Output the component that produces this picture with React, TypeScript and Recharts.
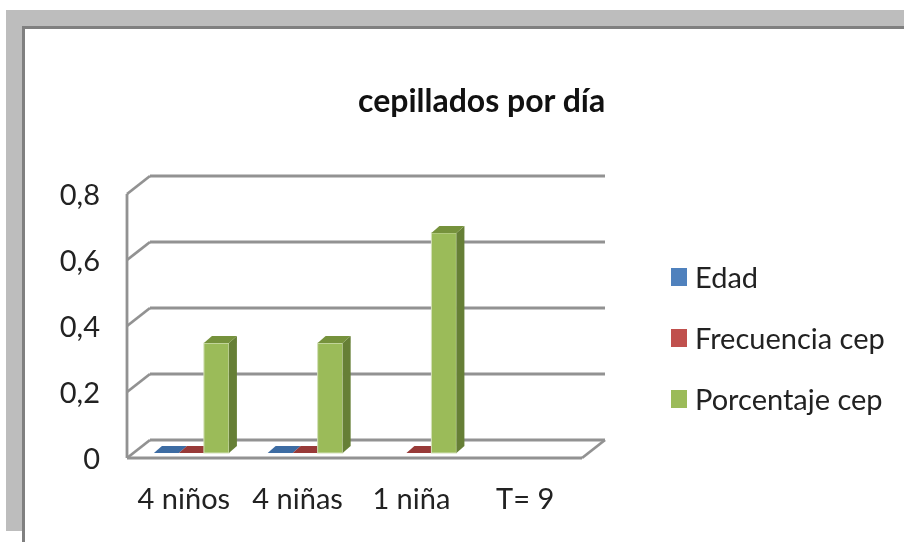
import { BarChart, Bar, XAxis, YAxis, CartesianGrid, Legend, ReferenceLine } from "recharts";

const categories = ["4 niños", "4 niñas", "1 niña", "T= 9"];
const edad = [0, 0, null, null];
const frecuencia = [0, 0, 0, null];
const porcentaje = [0.333, 0.333, 0.667, null];
const yTicks = [0, 0.2, 0.4, 0.6, 0.8];

const data = categories.map((name, i) => ({
  name,
  edad: edad[i],
  frecuencia: frecuencia[i],
  porcentaje: porcentaje[i],
}));

const FONT = "Lato, sans-serif";
const GRID = "#929292";
const GRID_W = 2.8;
// fake 3d: the bars sit mid-way between the front edge and the back wall
const BACK = { x: 16, y: -13 };
const FRONT = { x: -7, y: 5 };
const BAR_DEPTH = { x: 8, y: -7 };

function wallLine(p: any) {
  return (
    <g key={p.key ?? p.y1}>
      <line x1={p.x1 + BACK.x} y1={p.y1 + BACK.y} x2={p.x2 + BACK.x} y2={p.y1 + BACK.y} stroke={GRID} strokeWidth={GRID_W} />
      <line x1={p.x1 + FRONT.x} y1={p.y1 + FRONT.y} x2={p.x1 + BACK.x} y2={p.y1 + BACK.y} stroke={GRID} strokeWidth={GRID_W} />
    </g>
  );
}

function floorEdge(p: any) {
  const { x2, y2 } = p;
  return <line x1={x2 + FRONT.x} y1={y2 + FRONT.y} x2={x2 + BACK.x} y2={y2 + BACK.y} stroke={GRID} strokeWidth={GRID_W} />;
}

const box3d = (front: string, side: string, top: string) => (p: any) => {
  const { x, y, width: w, height: h, value } = p;
  const v = Array.isArray(value) ? value[1] : value;
  if (v == null) return null;
  const dx = BAR_DEPTH.x;
  const dy = BAR_DEPTH.y;
  return (
    <g>
      {h > 0 && <rect x={x} y={y} width={w} height={h} fill={front} stroke="#d3e0b8" strokeWidth={1} />}
      {h > 0 && (
        <polygon points={`${x + w},${y} ${x + w + dx},${y + dy} ${x + w + dx},${y + h + dy} ${x + w},${y + h}`} fill={side} />
      )}
      <polygon points={`${x},${y} ${x + dx},${y + dy} ${x + w + dx},${y + dy} ${x + w},${y}`} fill={top} />
    </g>
  );
};

function CategoryTick({ x, y, payload }: any) {
  return (
    <text x={x + FRONT.x} y={y + 48} textAnchor="middle" fontFamily={FONT} fontSize={29} fill="#222">
      {payload.value}
    </text>
  );
}

function ValueTick({ x, y, payload }: any) {
  return (
    <text x={x - 26} y={y + 16} textAnchor="end" fontFamily={FONT} fontSize={29} fill="#222">
      {String(payload.value).replace(".", ",")}
    </text>
  );
}

function LegendList({ payload }: any) {
  return (
    <div>
      {(payload ?? []).map((item: any) => (
        <div key={item.value} style={{ display: "flex", alignItems: "center", height: 61, color: "#222", fontFamily: FONT, fontSize: 29 }}>
          <span style={{ width: 16, height: 18, background: item.color, marginRight: 8 }} />
          {item.value}
        </div>
      ))}
    </div>
  );
}

export default function App() {
  return (
    <div style={{ position: "fixed", left: 0, top: 0, width: 904, height: 542, background: "#fff", overflow: "hidden", filter: "blur(0.4px)" }}>
      <div style={{ position: "absolute", left: 6, top: 10, width: 898, height: 521, background: "#bdbdbd" }} />
      <div style={{ position: "absolute", left: 22, top: 26, width: 882, height: 516, background: "#fff", borderLeft: "3px solid #808080", borderTop: "3px solid #808080" }} />
      <div style={{ position: "absolute", left: 358, top: 80, fontFamily: FONT, fontWeight: 700, fontSize: 32, color: "#111", whiteSpace: "nowrap" }}>
        cepillados por día
      </div>
      <div style={{ position: "absolute", left: 0, top: 0 }}>
        <BarChart
          width={904}
          height={542}
          data={data}
          margin={{ top: 189, right: 315, bottom: 49, left: 74 }}
          barCategoryGap="17.5%"
          barGap={0}
        >
          <CartesianGrid vertical={false} horizontal={wallLine} />
          <XAxis
            dataKey="name"
            height={40}
            tickLine={false}
            tick={CategoryTick}
            axisLine={{ stroke: GRID, strokeWidth: GRID_W, transform: `translate(${FRONT.x},${FRONT.y})` }}
          />
          <YAxis
            width={60}
            domain={[0, 0.8]}
            ticks={yTicks}
            tickLine={false}
            tick={ValueTick}
            axisLine={{ stroke: GRID, strokeWidth: GRID_W, transform: `translate(${FRONT.x},${FRONT.y})` }}
          />
          <ReferenceLine y={0} stroke="none" shape={floorEdge} />
          <Bar dataKey="edad" name="Edad" fill="#4F81BD" isAnimationActive={false} shape={box3d("#4F81BD", "#376092", "#3D6CA3")} />
          <Bar dataKey="frecuencia" name="Frecuencia cep" fill="#C0504D" isAnimationActive={false} shape={box3d("#C0504D", "#953735", "#983A38")} />
          <Bar dataKey="porcentaje" name="Porcentaje cep" fill="#9BBB59" isAnimationActive={false} shape={box3d("#9BBB59", "#667F36", "#76923C")} />
          <Legend
            layout="vertical"
            align="center"
            verticalAlign="middle"
            content={LegendList}
            wrapperStyle={{ position: "absolute", left: 671, top: 246, width: 230 }}
          />
        </BarChart>
      </div>
    </div>
  );
}
